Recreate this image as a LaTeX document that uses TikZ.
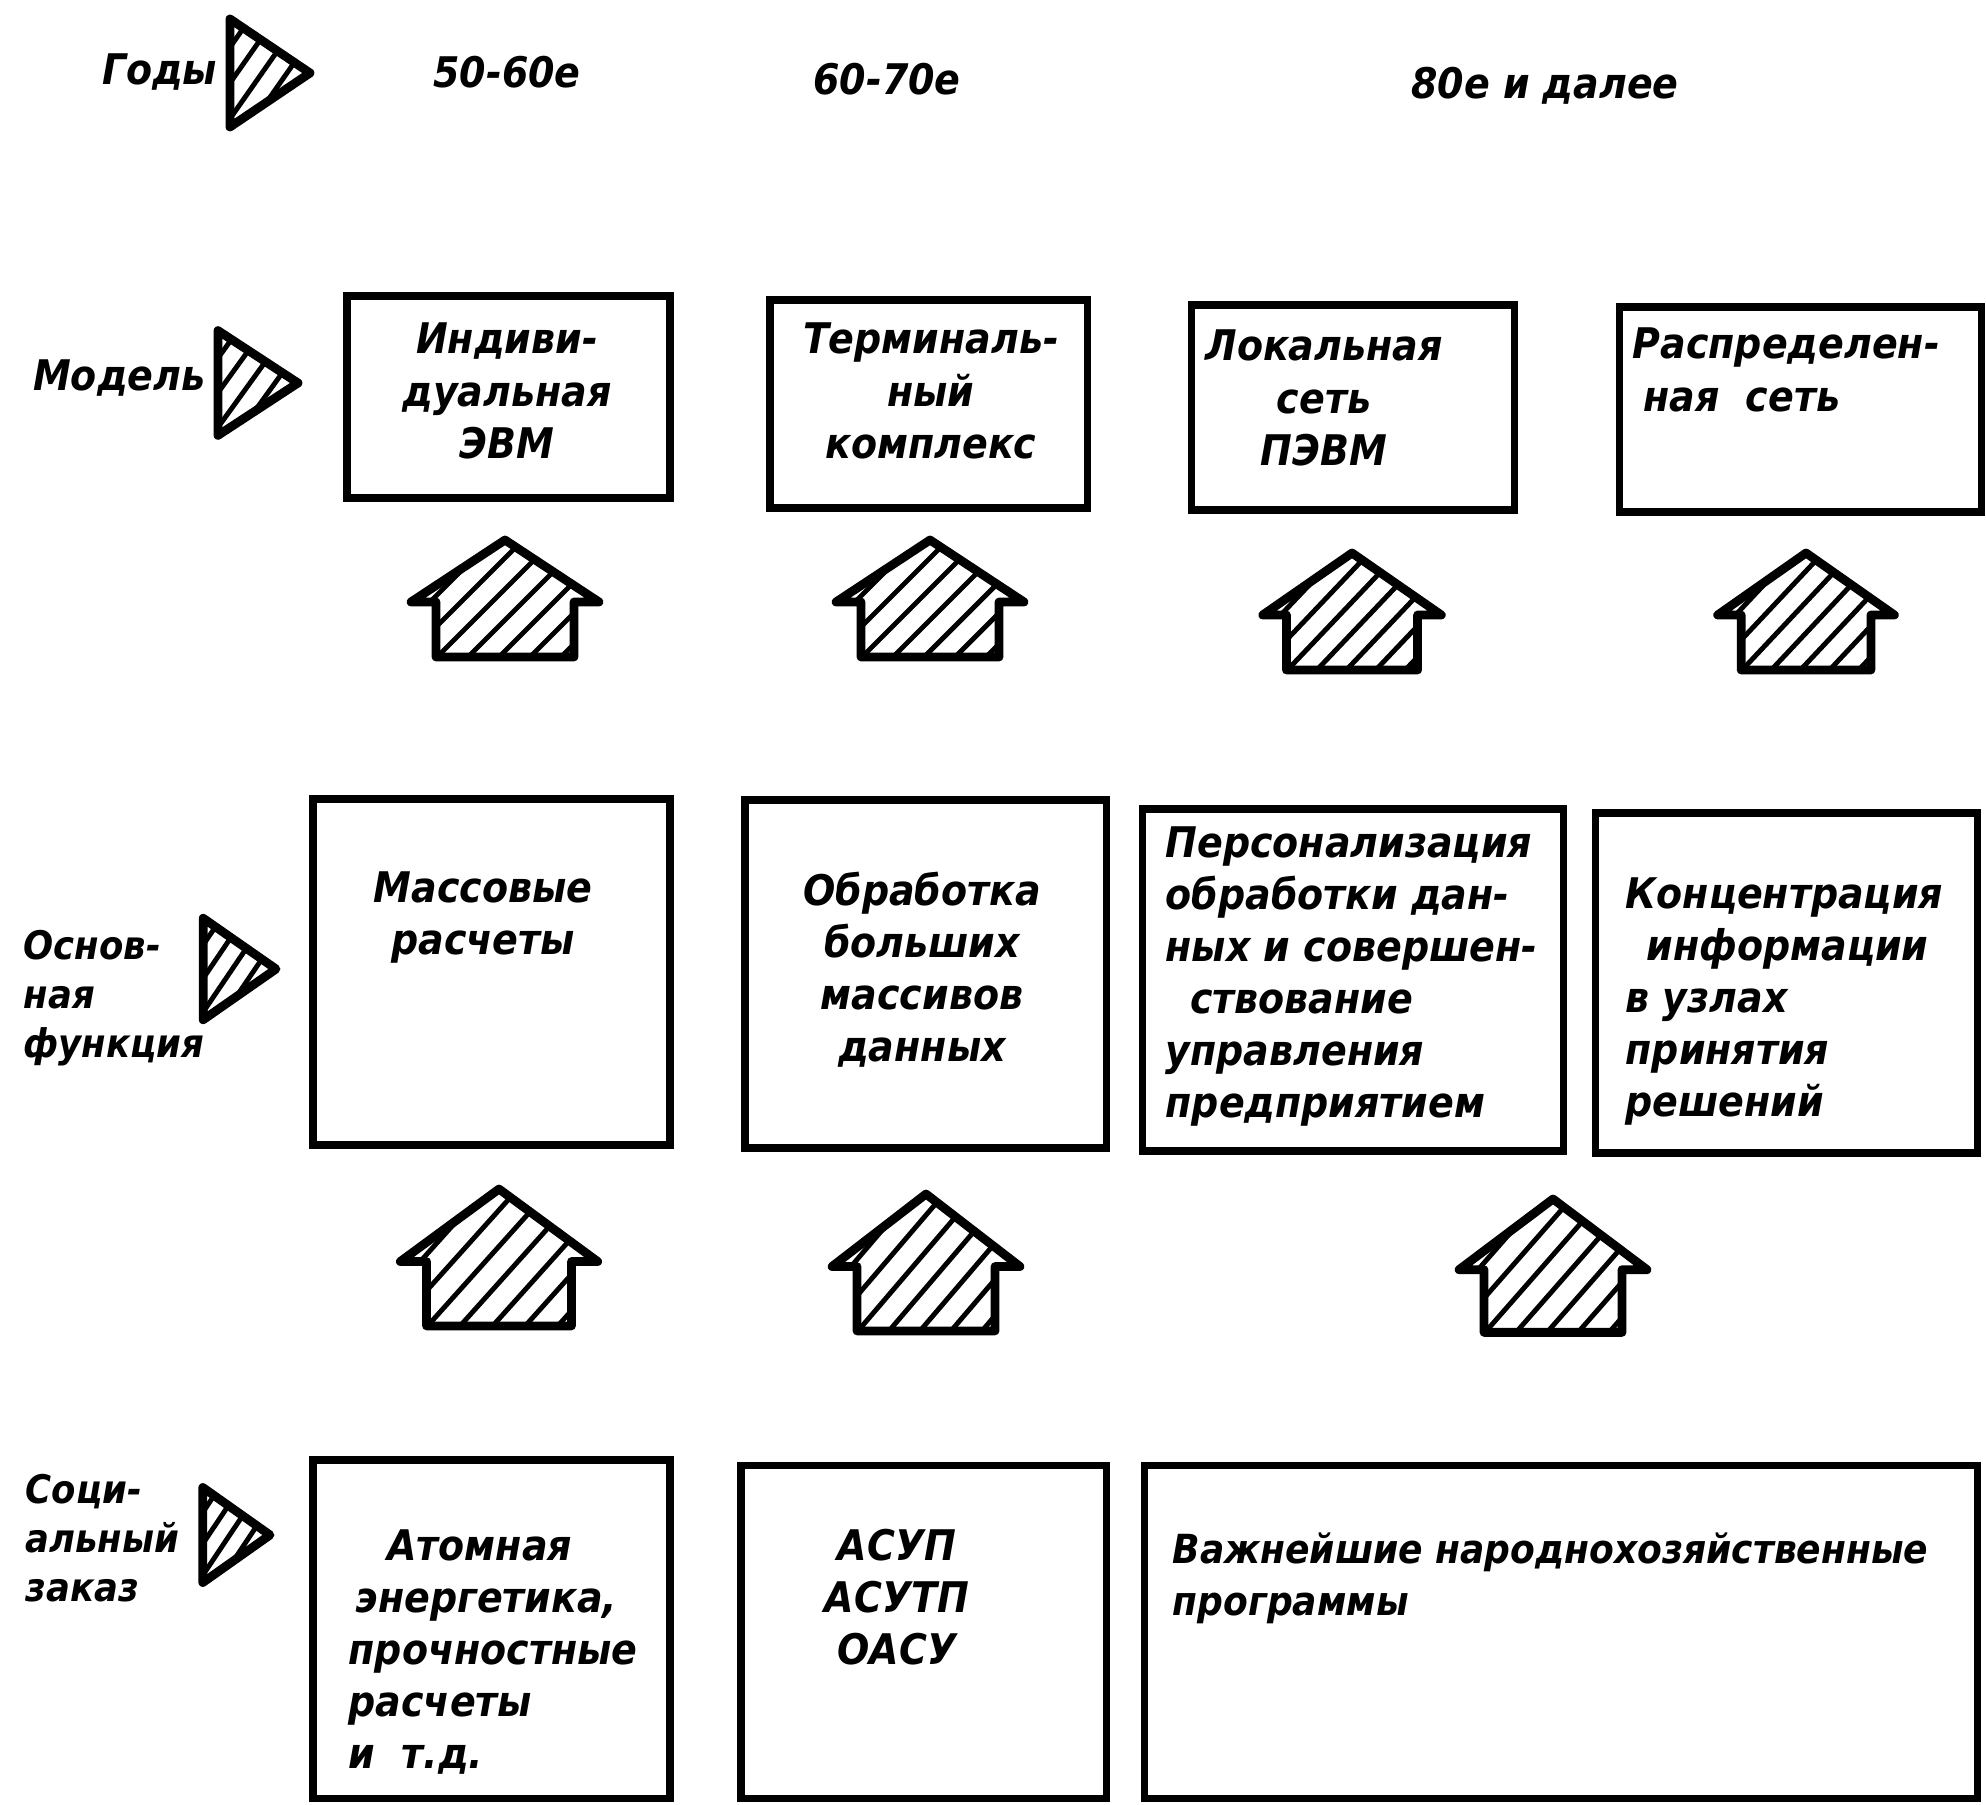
\documentclass[tikz,border=0pt]{standalone}
\usepackage{fontspec}
\setmainfont{DejaVu Sans Condensed}
\usetikzlibrary{fit}
\newcommand\gostfont{\fontsize{12}{14.8}\selectfont\bfseries\itshape}
\newcommand\gostlabel{\fontsize{11.2}{14}\selectfont\bfseries\itshape}

\tikzset{
  frame/.style={draw, line width=2pt, inner sep=0pt},
  txt/.style={inner sep=0pt, font=\gostfont, anchor=base west},
  ctxt/.style={inner sep=0pt, font=\gostfont, anchor=base},
  rtxt/.style={inner sep=0pt, font=\gostfont, anchor=base east},
  ltxt/.style={inner sep=0pt, font=\gostlabel, anchor=base west},
  hatch/.style={line width=1.4pt},
  outl/.style={line width=2.5pt, line join=round},
  % hatched upward block arrow, apex at the origin
  uparr/.pic={
    \begin{scope}
      \clip (0,0) -- (94,62) -- (69,62) -- (69,117) -- (-69,117) -- (-69,62) -- (-94,62) -- cycle;
      \foreach \k in {-7,...,5} \draw[hatch] (\k*31-50,130) -- ++(160,-160);
    \end{scope}
    \draw[outl] (0,0) -- (94,62) -- (69,62) -- (69,117) -- (-69,117) -- (-69,62) -- (-94,62) -- cycle;
  },
  % hatched right-pointing triangle, tip at the origin
  pointer/.pic={
    \begin{scope}
      \clip (0,0) -- (-80,-54) -- (-80,54) -- cycle;
      \foreach \k in {0,...,7} \draw[hatch] (-165+\k*25,60) -- ++(84,-120);
    \end{scope}
    \draw[outl] (0,0) -- (-80,-54) -- (-80,54) -- cycle;
  }
}

\begin{document}
\begin{tikzpicture}[x=0.01cm, y=-0.01cm]
\fill[white] (0,0) rectangle (1986,1804);
\useasboundingbox (0,0) rectangle (1986,1804);

% ---- row: years ----
\node[rtxt] (lyears) at (218,85) {Годы};
\pic (pyears) at (310,73) {pointer};
\node[ctxt] (y1) at (507,88) {50-60е};
\node[ctxt] (y2) at (887,95) {60-70е};
\node[ctxt] (y3) at (1545,99) {80е и далее};

% ---- row: model ----
\node[rtxt] (lmodel) at (206,391) {Модель};
\pic[yscale=0.97] (pmodel) at (298,383) {pointer};
\node[frame, fit={(347,296) (670,498)}] (m1) {};
\node[frame, fit={(770,300) (1087,508)}] (m2) {};
\node[frame, fit={(1191,305) (1514,510)}] (m3) {};
\node[frame, fit={(1619,307) (1981,512)}] (m4) {};
\node[ctxt] (m1t) at (507,354) {\begin{tabular}[t]{@{}c@{}}Индиви-\\дуальная\\ЭВМ\end{tabular}};
\node[ctxt] (m2t) at (931,354) {\begin{tabular}[t]{@{}c@{}}Терминаль-\\ный\\комплекс\end{tabular}};
\node[ctxt] (m3t) at (1324,361) {\begin{tabular}[t]{@{}c@{}}Локальная\\сеть\\ПЭВМ\end{tabular}};
\node[txt] (m4t) at (1632,359) {\begin{tabular}[t]{@{}l@{}}Распределен-\\\hspace*{3pt}ная\ \ сеть\end{tabular}};

\pic (a1) at (505,540) {uparr};
\pic (a2) at (930,540) {uparr};
\pic[xscale=0.95] (a3) at (1352,553) {uparr};
\pic[xscale=0.94] (a4) at (1806,553) {uparr};

% ---- row: main function ----
\node[ltxt] (lfunc) at (23,959) {\begin{tabular}[t]{@{}l@{}}Основ-\\ная\\функция\end{tabular}};
\pic[xscale=0.91, yscale=0.94] (pfunc) at (276,969) {pointer};
\node[frame, fit={(313,799) (670,1145)}] (f1) {};
\node[frame, fit={(745,800) (1106,1148)}] (f2) {};
\node[frame, fit={(1142,809) (1563,1151)}] (f3) {};
\node[frame, fit={(1595,813) (1977,1153)}] (f4) {};
\node[ctxt] (f1t) at (483,902) {\begin{tabular}[t]{@{}c@{}}Массовые\\расчеты\end{tabular}};
\node[ctxt] (f2t) at (922,905) {\begin{tabular}[t]{@{}c@{}}Обработка\\больших\\массивов\\данных\end{tabular}};
\node[txt] (f3t) at (1165,857) {\begin{tabular}[t]{@{}l@{}}Персонализация\\обработки дан-\\ных и совершен-\\\hspace*{7pt}ствование\\управления\\предприятием\end{tabular}};
\node[txt] (f4t) at (1625,908) {\begin{tabular}[t]{@{}l@{}}Концентрация\\\hspace*{6pt}информации\\в узлах\\принятия\\решений\end{tabular}};

\pic[xscale=1.05, yscale=1.17] (b1) at (499,1189) {uparr};
\pic[yscale=1.17] (b2) at (926,1194) {uparr};
\pic[yscale=1.14] (b3) at (1553,1199) {uparr};

% ---- row: social demand ----
\node[ltxt] (lsoc) at (25,1503) {\begin{tabular}[t]{@{}l@{}}Соци-\\альный\\заказ\end{tabular}};
\pic[xscale=0.84, yscale=0.88] (psoc) at (270,1535) {pointer};
\node[frame, fit={(313,1460) (670,1798)}] (s1) {};
\node[frame, fit={(741,1465) (1106,1798)}] (s2) {};
\node[frame, fit={(1144,1465) (1977,1798)}] (s3) {};
\node[txt] (s1t) at (348,1560) {\begin{tabular}[t]{@{}l@{}}\hspace*{11pt}Атомная\\\hspace*{2pt}энергетика,\\прочностные\\расчеты\\и\ \ т.д.\end{tabular}};
\node[ctxt] (s2t) at (897,1560) {\begin{tabular}[t]{@{}c@{}}АСУП\\АСУТП\\ОАСУ\end{tabular}};
\node[txt, font=\fontsize{11.4}{14.8}\selectfont\bfseries\itshape] (s3t) at (1172,1563) {\begin{tabular}[t]{@{}l@{}}Важнейшие народнохозяйственные\\программы\end{tabular}};
\end{tikzpicture}
\end{document}
